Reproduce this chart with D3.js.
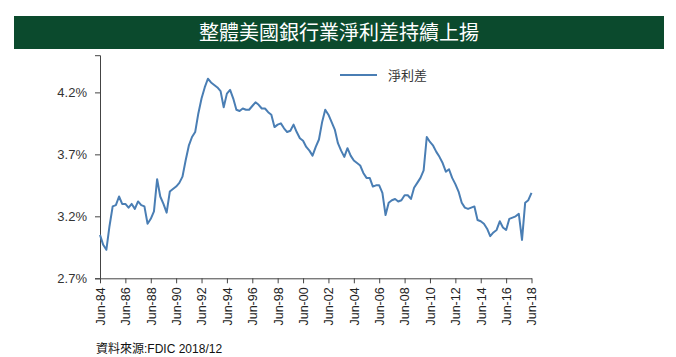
<!DOCTYPE html>
<html>
<head>
<meta charset="utf-8">
<script src="https://cdn.jsdelivr.net/npm/d3@7"></script>
<style>
  html, body { margin: 0; padding: 0; background: #fff; }
  svg { display: block; }
</style>
</head>
<body>
<svg id="chart" width="676" height="357"></svg>
<script>
// ---- data ----
const titleText = "整體美國銀行業淨利差持續上揚";
const seriesName = "淨利差";
const sourceLabel = "資料來源";
const sourceValue = ":FDIC 2018/12";
const firstQuarter = "1984-06"; // quarterly series starting Jun-84
const nimValues = [
  3.05, 2.97, 2.93, 3.12, 3.28, 3.29, 3.36, 3.30, 3.30, 3.27,
  3.30, 3.26, 3.32, 3.29, 3.28, 3.14, 3.18, 3.24, 3.50, 3.36,
  3.30, 3.23, 3.40, 3.42, 3.44, 3.47, 3.52, 3.65, 3.77, 3.84,
  3.88, 4.03, 4.15, 4.24, 4.31, 4.28, 4.26, 4.24, 4.21, 4.08,
  4.19, 4.22, 4.15, 4.06, 4.05, 4.07, 4.06, 4.06, 4.09, 4.12,
  4.10, 4.07, 4.07, 4.04, 4.02, 3.92, 3.94, 3.95, 3.91, 3.88,
  3.89, 3.94, 3.88, 3.83, 3.81, 3.76, 3.73, 3.69, 3.76, 3.82,
  3.96, 4.06, 4.02, 3.96, 3.90, 3.79, 3.73, 3.68, 3.75, 3.69,
  3.65, 3.63, 3.61, 3.55, 3.51, 3.51, 3.44, 3.45, 3.45, 3.39,
  3.21, 3.31, 3.33, 3.34, 3.32, 3.33, 3.37, 3.37, 3.34, 3.43,
  3.47, 3.51, 3.57, 3.84, 3.80, 3.77, 3.72, 3.68, 3.63, 3.56,
  3.58, 3.51, 3.46, 3.40, 3.31, 3.27, 3.26, 3.27, 3.28, 3.17,
  3.16, 3.14, 3.10, 3.04, 3.07, 3.09, 3.16, 3.11, 3.09, 3.18,
  3.19, 3.20, 3.22, 3.01, 3.31, 3.33, 3.39
];
const yTicks = [2.7, 3.2, 3.7, 4.2];
const xTickLabels = ["Jun-84","Jun-86","Jun-88","Jun-90","Jun-92","Jun-94","Jun-96","Jun-98",
  "Jun-00","Jun-02","Jun-04","Jun-06","Jun-08","Jun-10","Jun-12","Jun-14","Jun-16","Jun-18"];

// ---- build ----
const parseQ = d3.timeParse("%Y-%m");
const start = parseQ(firstQuarter);
const data = nimValues.map((v, i) => ({ date: d3.timeMonth.offset(start, 3 * i), value: v }));
const parseTick = d3.timeParse("%b-%y");
const tickDates = xTickLabels.map(s => parseTick(s));

const svg = d3.select("#chart");
const latin = "'Liberation Sans', Arial, sans-serif";
const cjk = "'Noto Sans CJK TC', 'Noto Sans CJK SC', sans-serif";

// title banner
svg.append("rect").attr("x", 14).attr("y", 16).attr("width", 650).attr("height", 33)
  .attr("fill", "#0b4a2d");
svg.append("text").attr("x", 339).attr("y", 33).attr("dy", "0.35em")
  .attr("text-anchor", "middle").attr("fill", "#ffffff")
  .attr("font-family", cjk).attr("font-size", 20).text(titleText);

const x = d3.scaleTime().domain([tickDates[0], tickDates[tickDates.length - 1]]).range([100, 531.5]);
const y = d3.scaleLinear().domain([2.7, 4.5]).range([278.3, 55.2]);

const axisColor = "#444";

// y axis
const yAxis = svg.append("g").attr("transform", "translate(100,0)")
  .call(d3.axisLeft(y).tickValues(yTicks).tickSize(5).tickPadding(8)
    .tickFormat(d => d3.format(".1f")(d) + "%"));
yAxis.select(".domain").attr("stroke", axisColor);
yAxis.selectAll(".tick line").attr("stroke", axisColor);
yAxis.selectAll("text").attr("font-family", latin).attr("font-size", 13).attr("fill", "#333");

// x axis
const xAxis = svg.append("g").attr("transform", "translate(0,278.3)")
  .call(d3.axisBottom(x).tickValues(tickDates).tickSize(5).tickSizeOuter(0)
    .tickFormat((d, i) => xTickLabels[i]));
xAxis.select(".domain").attr("stroke", axisColor);
xAxis.selectAll(".tick line").attr("stroke", axisColor);
xAxis.selectAll("text")
  .attr("font-family", latin).attr("font-size", 12.5).attr("fill", "#222")
  .attr("text-anchor", "end")
  .attr("transform", "rotate(-90)")
  .attr("x", -9).attr("y", 0).attr("dy", "0.35em");

// line
const line = d3.line().x(d => x(d.date)).y(d => y(d.value));
svg.append("path").datum(data)
  .attr("fill", "none").attr("stroke", "#4a7eb4").attr("stroke-width", 2)
  .attr("stroke-linejoin", "round").attr("d", line);

// legend
svg.append("line").attr("x1", 340).attr("x2", 377).attr("y1", 75).attr("y2", 75)
  .attr("stroke", "#4a7eb4").attr("stroke-width", 2);
svg.append("text").attr("x", 388).attr("y", 75).attr("dy", "0.35em")
  .attr("font-family", cjk).attr("font-size", 13).attr("fill", "#333").text(seriesName);

// source
const src = svg.append("text").attr("x", 96).attr("y", 353).attr("font-size", 12).attr("fill", "#111");
src.append("tspan").attr("font-family", cjk).text(sourceLabel);
src.append("tspan").attr("font-family", latin).text(sourceValue);
</script>
</body>
</html>
